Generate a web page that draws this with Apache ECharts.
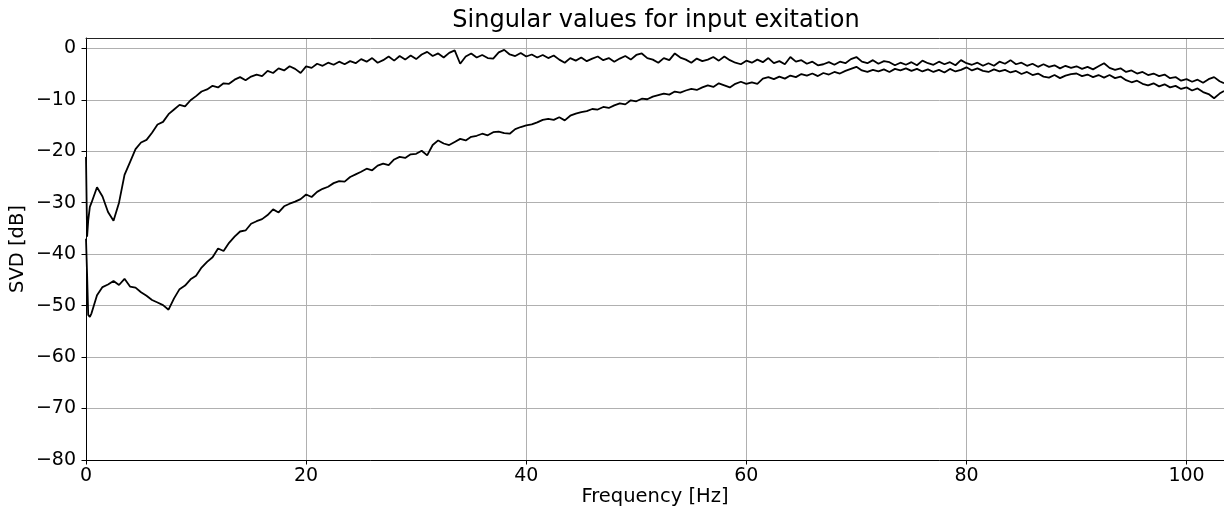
<!DOCTYPE html>
<html>
<head>
<meta charset="utf-8">
<script src="https://cdn.jsdelivr.net/npm/echarts@6/dist/echarts.min.js"></script>
<style>
  html, body { margin: 0; padding: 0; background: #fff; }
  #main { width: 1224px; height: 508px; }
</style>
</head>
<body>
<div id="main"></div>
<script>
// frequency bins [Hz]
const freq = [
  0, 0.1, 0.2, 0.35,
  0.5, 1, 1.5, 2, 2.5, 3, 3.5, 4, 4.5, 5,
  5.5, 6, 6.5, 7, 7.5, 8, 8.5, 9, 9.5, 10,
  10.5, 11, 11.5, 12, 12.5, 13, 13.5, 14, 14.5, 15,
  15.5, 16, 16.5, 17, 17.5, 18, 18.5, 19, 19.5, 20,
  20.5, 21, 21.5, 22, 22.5, 23, 23.5, 24, 24.5, 25,
  25.5, 26, 26.5, 27, 27.5, 28, 28.5, 29, 29.5, 30,
  30.5, 31, 31.5, 32, 32.5, 33, 33.5, 34, 34.5, 35,
  35.5, 36, 36.5, 37, 37.5, 38, 38.5, 39, 39.5, 40,
  40.5, 41, 41.5, 42, 42.5, 43, 43.5, 44, 44.5, 45,
  45.5, 46, 46.5, 47, 47.5, 48, 48.5, 49, 49.5, 50,
  50.5, 51, 51.5, 52, 52.5, 53, 53.5, 54, 54.5, 55,
  55.5, 56, 56.5, 57, 57.5, 58, 58.5, 59, 59.5, 60,
  60.5, 61, 61.5, 62, 62.5, 63, 63.5, 64, 64.5, 65,
  65.5, 66, 66.5, 67, 67.5, 68, 68.5, 69, 69.5, 70,
  70.5, 71, 71.5, 72, 72.5, 73, 73.5, 74, 74.5, 75,
  75.5, 76, 76.5, 77, 77.5, 78, 78.5, 79, 79.5, 80,
  80.5, 81, 81.5, 82, 82.5, 83, 83.5, 84, 84.5, 85,
  85.5, 86, 86.5, 87, 87.5, 88, 88.5, 89, 89.5, 90,
  90.5, 91, 91.5, 92, 92.5, 93, 93.5, 94, 94.5, 95,
  95.5, 96, 96.5, 97, 97.5, 98, 98.5, 99, 99.5, 100,
  100.5, 101, 101.5, 102, 102.5, 103, 103.4
];

// largest singular value [dB]
const svMax = [
  -21.1, -36.6, -33.5, -30.8,
  -30.0, -27.0, -28.8, -31.8, -33.5, -30.0, -24.6, -22.1, -19.6, -18.3,
  -17.8, -16.4, -14.8, -14.3, -12.8, -11.9, -11.0, -11.3, -10.1, -9.3,
  -8.4, -8.0, -7.3, -7.6, -6.8, -6.9, -6.1, -5.6, -6.2, -5.5,
  -5.1, -5.4, -4.4, -4.8, -3.9, -4.3, -3.5, -4.0, -4.8, -3.5,
  -3.8, -3.0, -3.4, -2.8, -3.2, -2.6, -3.1, -2.5, -2.9, -2.1,
  -2.6, -1.9, -2.8, -2.3, -1.6, -2.4, -1.5, -2.2, -1.4, -2.1,
  -1.2, -0.7, -1.5, -1.0, -1.8, -0.9, -0.4, -3.0, -1.6, -1.0,
  -1.8, -1.3, -1.9, -2.0, -0.8, -0.3, -1.2, -1.5, -0.9, -1.6,
  -1.2, -1.8, -1.3, -1.9, -1.4, -2.2, -2.8, -1.9, -2.4, -1.8,
  -2.5, -2.0, -1.6, -2.3, -1.9, -2.6, -2.0, -1.5, -2.2, -1.3,
  -1.0, -1.9, -2.2, -2.8, -1.9, -2.3, -1.0, -1.8, -2.2, -2.8,
  -2.0, -2.5, -2.2, -1.7, -2.4, -1.6, -2.3, -2.8, -3.1, -2.4,
  -2.8, -2.2, -2.7, -1.9, -2.9, -2.5, -3.1, -1.7, -2.6, -2.3,
  -3.0, -2.6, -3.3, -3.1, -2.7, -3.2, -2.6, -2.9, -2.1, -1.7,
  -2.6, -2.9, -2.3, -3.0, -2.5, -2.7, -3.3, -2.8, -3.2, -2.7,
  -3.3, -2.4, -2.9, -3.2, -2.6, -3.1, -2.7, -3.3, -2.3, -2.9,
  -3.2, -2.8, -3.4, -2.9, -3.4, -2.6, -3.0, -2.3, -3.1, -2.8,
  -3.4, -3.0, -3.6, -3.1, -3.6, -3.3, -3.9, -3.4, -3.8, -3.5,
  -4.0, -3.6, -4.1, -3.5, -2.9, -3.8, -4.2, -3.9, -4.6, -4.3,
  -4.9, -4.6, -5.2, -4.9, -5.4, -5.1, -5.8, -5.6, -6.3, -6.0,
  -6.5, -6.1, -6.7, -6.0, -5.6, -6.4, -6.8
];

// smallest singular value [dB]
const svMin = [
  -37.0, -44.0, -51.8, -52.2,
  -51.5, -48.0, -46.4, -45.9, -45.2, -46.0, -44.8, -46.3, -46.5, -47.4,
  -48.1, -48.9, -49.4, -49.9, -50.8, -48.6, -46.8, -46.1, -44.9, -44.2,
  -42.6, -41.5, -40.6, -38.9, -39.4, -37.8, -36.6, -35.6, -35.4, -34.1,
  -33.6, -33.2, -32.4, -31.3, -31.9, -30.7, -30.2, -29.8, -29.3, -28.4,
  -28.9, -27.9, -27.3, -26.9, -26.2, -25.8, -25.9, -25.0, -24.5, -24.0,
  -23.4, -23.7, -22.8, -22.4, -22.7, -21.6, -21.1, -21.3, -20.6, -20.5,
  -19.9, -20.8, -18.8, -17.9, -18.5, -18.8, -18.2, -17.6, -17.9, -17.2,
  -17.0, -16.6, -16.9, -16.3, -16.2, -16.5, -16.6, -15.7, -15.3, -15.0,
  -14.8, -14.4, -13.9, -13.7, -13.9, -13.4, -14.0, -13.1, -12.7, -12.4,
  -12.2, -11.8, -11.9, -11.4, -11.6, -11.1, -10.7, -10.9, -10.1, -10.3,
  -9.8, -9.9, -9.4, -9.1, -8.8, -9.0, -8.4, -8.6, -8.2, -7.9,
  -8.1, -7.6, -7.2, -7.5, -6.8, -7.2, -7.6, -6.9, -6.5, -6.9,
  -6.6, -6.9, -5.9, -5.6, -6.0, -5.5, -5.9, -5.3, -5.6, -5.0,
  -5.3, -4.9, -5.4, -4.8, -5.1, -4.6, -4.9, -4.4, -4.0, -3.6,
  -4.3, -4.6, -4.2, -4.5, -4.1, -4.6, -4.0, -4.3, -3.9, -4.4,
  -4.0, -4.5, -4.1, -4.6, -4.2, -4.7, -4.0, -4.5, -4.2, -3.7,
  -4.3, -3.9, -4.4, -4.6, -4.1, -4.5, -4.2, -4.7, -4.4, -5.0,
  -4.6, -5.2, -4.9, -5.5, -5.7, -5.2, -5.8, -5.3, -5.0, -4.9,
  -5.4, -5.1, -5.6, -5.2, -5.7, -5.2, -5.8, -5.5, -6.2, -6.6,
  -6.3, -6.9, -7.2, -6.8, -7.4, -7.0, -7.6, -7.3, -7.9, -7.6,
  -8.2, -7.8, -8.5, -8.9, -9.7, -8.8, -8.3
];

const xTicks = [0, 20, 40, 60, 80, 100];
const yTicks = [-80, -70, -60, -50, -40, -30, -20, -10, 0];

const FONT = 'DejaVu Sans';
const minus = v => String(v).replace('-', '\u2212');

const chart = echarts.init(document.getElementById('main'));

const option = {
  animation: false,
  backgroundColor: '#fff',
  textStyle: { fontFamily: FONT },
  title: {
    text: 'Singular values for input exitation',
    left: 651,
    top: 4,
    textAlign: 'center',
    textStyle: { fontFamily: FONT, fontSize: 24, fontWeight: 'normal', color: '#000' }
  },
  grid: {
    left: 86, right: 0, top: 38, bottom: 48,
    containLabel: false,
    outerBoundsMode: 'none'
  },
  xAxis: [
    {
      type: 'value',
      min: 0, max: 103.4, interval: 20,
      name: 'Frequency [Hz]',
      nameLocation: 'middle',
      nameGap: 27,
      nameMoveOverlap: false,
      nameTextStyle: { fontFamily: FONT, fontSize: 19.5, color: '#000' },
      axisLine: { show: true, onZero: false, lineStyle: { color: '#000', width: 1 } },
      axisTick: { show: true, inside: false, length: 4.5, lineStyle: { color: '#000' },
        customValues: xTicks },
      axisLabel: { fontFamily: FONT, fontSize: 19, color: '#000', margin: 7,
        customValues: xTicks, formatter: v => minus(v) },
      splitLine: { show: true, lineStyle: { color: '#b0b0b0', width: 1 } }
    },
    {
      // top spine only
      type: 'value',
      position: 'top',
      min: 0, max: 103.4,
      axisLine: { show: true, onZero: false, lineStyle: { color: '#222', width: 1 } },
      axisTick: { show: false },
      axisLabel: { show: false },
      splitLine: { show: false }
    }
  ],
  yAxis: {
    type: 'value',
    min: -80, max: 2, interval: 10,
    name: 'SVD [dB]',
    nameLocation: 'middle',
    nameGap: 58,
    nameMoveOverlap: false,
    nameTextStyle: { fontFamily: FONT, fontSize: 19.5, color: '#000' },
    axisLine: { show: true, onZero: false, lineStyle: { color: '#000', width: 1 } },
    axisTick: { show: true, inside: false, length: 4.5, lineStyle: { color: '#000' },
      customValues: yTicks },
    axisLabel: { fontFamily: FONT, fontSize: 19, color: '#000', margin: 10,
      customValues: yTicks, formatter: v => minus(v) },
    splitLine: { show: true, lineStyle: { color: '#b0b0b0', width: 1 } }
  },
  series: [
    {
      name: 'sv1',
      type: 'line',
      showSymbol: false,
      symbol: 'none',
      lineStyle: { color: '#000', width: 1.8 },
      data: freq.map((f, i) => [f, svMax[i]])
    },
    {
      name: 'sv2',
      type: 'line',
      showSymbol: false,
      symbol: 'none',
      lineStyle: { color: '#000', width: 1.8 },
      data: freq.map((f, i) => [f, svMin[i]])
    }
  ]
};

chart.setOption(option);
</script>
</body>
</html>
